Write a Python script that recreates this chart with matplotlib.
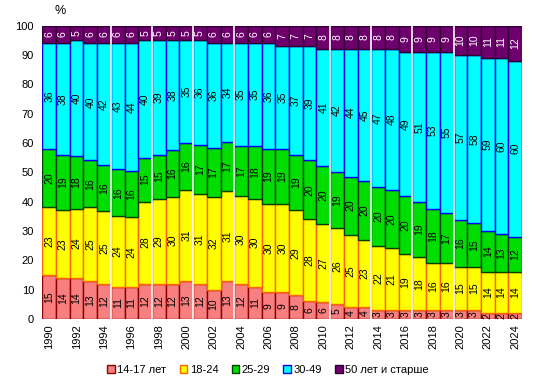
import numpy as np
import matplotlib.pyplot as plt
from matplotlib.patches import Patch

plt.rcParams['font.family'] = ['Liberation Sans', 'DejaVu Sans']

years = list(range(1990, 2025))

# shares by age group, %
age_14_17 = [15, 14, 14, 13, 12, 11, 11, 12, 12, 12, 13, 12, 10, 13, 12, 11, 9, 9,
             8, 6, 6, 5, 4, 4, 3, 3, 3, 3, 3, 3, 3, 3, 2, 2, 2]
age_18_24 = [23, 23, 24, 25, 25, 24, 24, 28, 29, 30, 31, 31, 32, 31, 30, 30, 30, 30,
             29, 28, 27, 26, 25, 23, 22, 21, 19, 18, 16, 16, 15, 15, 14, 14, 14]
age_25_29 = [20, 19, 18, 16, 16, 16, 16, 15, 15, 16, 16, 17, 17, 17, 17, 18, 19, 19,
             19, 20, 20, 19, 20, 20, 20, 20, 20, 19, 18, 17, 16, 15, 14, 13, 12]
age_30_49 = [36, 38, 40, 40, 42, 43, 44, 40, 39, 38, 35, 36, 36, 34, 35, 35, 36, 35,
             37, 39, 41, 42, 44, 45, 47, 48, 49, 51, 53, 55, 57, 58, 59, 60, 60]
age_50 = [6, 6, 5, 6, 6, 6, 6, 5, 5, 5, 5, 5, 6, 6, 6, 6, 6, 7,
          7, 7, 8, 8, 8, 8, 8, 8, 9, 9, 9, 9, 10, 10, 11, 11, 12]

series = [age_14_17, age_18_24, age_25_29, age_30_49, age_50]
labels = ['14-17 лет', '18-24', '25-29', '30-49', '50 лет и старше']
faces = ['#F77F7F', '#FFFF00', '#00DD00', '#00FFFF', '#6E006E']
edges = ['#8B0000', '#FF6600', '#004000', '#0000FF', '#300030']
txt_colors = ['black', 'black', 'black', 'black', 'white']

# thin white seams seen in the original between some bars
seams_before = [1995, 1998, 2001, 2004, 2011, 2014, 2017, 2020]

fig = plt.figure(figsize=(5.36, 3.87), dpi=100)
ax = fig.add_axes([0.079, 0.176, 0.895, 0.758])

x = np.arange(len(years))
data = np.array(series, dtype=float)
# normalise so each bar reaches 100
data = data / data.sum(axis=0) * 100
bottom = np.zeros(len(years))
for i in range(len(series)):
    ax.bar(x, data[i], bottom=bottom, width=1.0, color=faces[i],
           edgecolor=edges[i], linewidth=1.0)
    for j in range(len(years)):
        ax.text(x[j], bottom[j] + data[i][j] / 2, str(series[i][j]),
                rotation=90, ha='center', va='center', fontsize=7.5,
                color=txt_colors[i])
    bottom += data[i]

for yr in seams_before:
    ax.axvline(years.index(yr) - 0.5, color='white', linewidth=1.2)

ax.set_xlim(-0.5, len(years) - 0.5)
ax.set_ylim(0, 100)
ax.set_yticks(range(0, 101, 10))
ax.set_xticks(x[::2])
ax.set_xticklabels([str(y) for y in years[::2]], rotation=90, fontsize=8)
ax.tick_params(axis='both', length=0, labelsize=8)
ax.tick_params(axis='x', pad=4)
ax.tick_params(axis='y', pad=6)
for s in ax.spines.values():
    s.set_visible(False)

fig.text(0.112, 0.955, '%', fontsize=9, ha='center', va='bottom')

handles = [Patch(facecolor=faces[i], edgecolor=edges[i], linewidth=1.0)
           for i in range(len(series))]
fig.legend(handles, labels, loc='center', bbox_to_anchor=(0.5, 0.045), ncol=5,
           frameon=False, fontsize=8, handlelength=0.7, handleheight=0.7,
           handletextpad=0.2, columnspacing=1.2)

plt.savefig('out.png', dpi=100)
